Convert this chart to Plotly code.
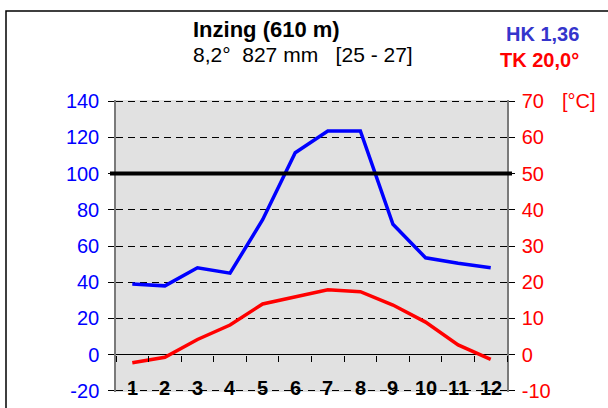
import plotly.graph_objects as go

# Monthly climate normals for Inzing (610 m)
months = ["1", "2", "3", "4", "5", "6", "7", "8", "9", "10", "11", "12"]
precip_mm = [39, 38, 48, 45, 74.5, 111.5, 123.5, 123.5, 72, 53.5, 50.5, 48]
temp_c = [-2.2, -0.7, 4.2, 8.2, 14.0, 16.0, 17.9, 17.4, 13.7, 9.0, 2.7, -1.3]

station = "Inzing (610 m)"
period = "[25 - 27]"
hk_text = "HK 1,36"
tk_text = "TK 20,0°"

precip_ticks = [-20, 0, 20, 40, 60, 80, 100, 120, 140]
temp_ticks = [-10, 0, 10, 20, 30, 40, 50, 60, 70]
humid_line = 100  # 100 mm reference line

BLUE = "#0000ff"
RED = "#ff0000"
FONT = "Liberation Sans, Arial, sans-serif"

# small padding so the outermost dashed gridlines are kept
pad = 0.6
p_range = [precip_ticks[0] - pad, precip_ticks[-1] + pad]
t_range = [temp_ticks[0] - pad / 2, temp_ticks[-1] + pad / 2]
zero_pos = (0 - p_range[0]) / (p_range[1] - p_range[0])

mean_t = sum(temp_c) / len(temp_c)
total_p = sum(precip_mm)
subtitle = f"{mean_t:.1f}°\u00a0\u00a0{total_p:.0f} mm\u00a0\u00a0\u00a0{period}".replace(".", ",")

fig = go.Figure()
fig.add_trace(go.Scatter(x=months, y=precip_mm, mode="lines",
                         line=dict(color=BLUE, width=3.5), yaxis="y", xaxis="x"))
fig.add_trace(go.Scatter(x=months, y=temp_c, mode="lines",
                         line=dict(color=RED, width=3.5), yaxis="y2", xaxis="x"))

W, H = 608, 408
L, R, T, B = 116, 101, 100, 16
pw, ph = W - L - R, H - T - B


def px_x(px):
    return (px - L) / pw


def px_y(py):
    return (H - B - py) / ph


annotations = []
for i, m in enumerate(months):
    annotations.append(dict(x=i, y=precip_ticks[0], xref="x", yref="y", text=f"<b>{m}</b>",
                            showarrow=False, yshift=3, yanchor="middle",
                            font=dict(family=FONT, size=20, color="black")))

annotations += [
    dict(x=px_x(191), y=px_y(29), xref="paper", yref="paper", text=f"<b>{station}</b>",
         showarrow=False, xanchor="left", yanchor="middle",
         font=dict(family=FONT, size=22, color="black")),
    dict(x=px_x(191), y=px_y(55), xref="paper", yref="paper", text=subtitle,
         showarrow=False, xanchor="left", yanchor="middle",
         font=dict(family=FONT, size=21, color="black")),
    dict(x=px_x(542), y=px_y(34), xref="paper", yref="paper", text=f"<b>{hk_text}</b>",
         showarrow=False, xanchor="center", yanchor="middle",
         font=dict(family=FONT, size=20, color="#3535cc")),
    dict(x=px_x(539), y=px_y(60), xref="paper", yref="paper", text=f"<b>{tk_text}</b>",
         showarrow=False, xanchor="center", yanchor="middle",
         font=dict(family=FONT, size=20, color=RED)),
    dict(x=px_x(560), y=temp_ticks[-1], xref="paper", yref="y2", text="[°C]",
         showarrow=False, xanchor="left", yanchor="middle",
         font=dict(family=FONT, size=20, color=RED)),
]

shapes = [
    # thick 100 mm line
    dict(type="line", xref="paper", yref="y", x0=px_x(110), x1=px_x(512),
         y0=humid_line, y1=humid_line, line=dict(color="black", width=4)),
    # outer frame
    dict(type="rect", xref="paper", yref="paper", x0=px_x(6), x1=px_x(640),
         y0=px_y(440), y1=px_y(11), line=dict(color="black", width=1.5),
         fillcolor="rgba(0,0,0,0)", layer="below"),
]

fig.update_layout(
    width=W, height=H,
    margin=dict(l=L, r=R, t=T, b=B, pad=0, autoexpand=False),
    paper_bgcolor="white",
    plot_bgcolor="#e1e1e1",
    showlegend=False,
    font=dict(family=FONT),
    xaxis=dict(type="category", categoryorder="array", categoryarray=months,
               range=[-0.5, len(months) - 0.5], automargin=False,
               anchor="free", position=zero_pos, showline=False,
               ticks="outside", tickson="boundaries", ticklen=6, tickwidth=1,
               tickcolor="black", showticklabels=False, showgrid=False, zeroline=False),
    yaxis=dict(range=p_range, tickvals=precip_ticks, ticktext=[str(v) for v in precip_ticks],
               showgrid=True, automargin=False,
               gridcolor="black", gridwidth=1, griddash="7px,5px",
               zeroline=True, zerolinecolor="black", zerolinewidth=1.2,
               showline=True, linecolor="#7a7a7a", linewidth=1.5,
               ticks="outside", ticklen=6, tickwidth=1, tickcolor="black",
               ticklabelstandoff=5,
               tickfont=dict(family=FONT, size=20, color=BLUE)),
    yaxis2=dict(range=t_range, tickvals=temp_ticks, ticktext=[str(v) for v in temp_ticks],
                overlaying="y", side="right",
                showgrid=False, zeroline=False, automargin=False,
                showline=True, linecolor="#7a7a7a", linewidth=1.5,
                ticks="outside", ticklen=6, tickwidth=1, tickcolor="black",
                ticklabelstandoff=3,
                tickfont=dict(family=FONT, size=20, color=RED)),
    annotations=annotations,
    shapes=shapes,
)

fig.write_html("out.html")
